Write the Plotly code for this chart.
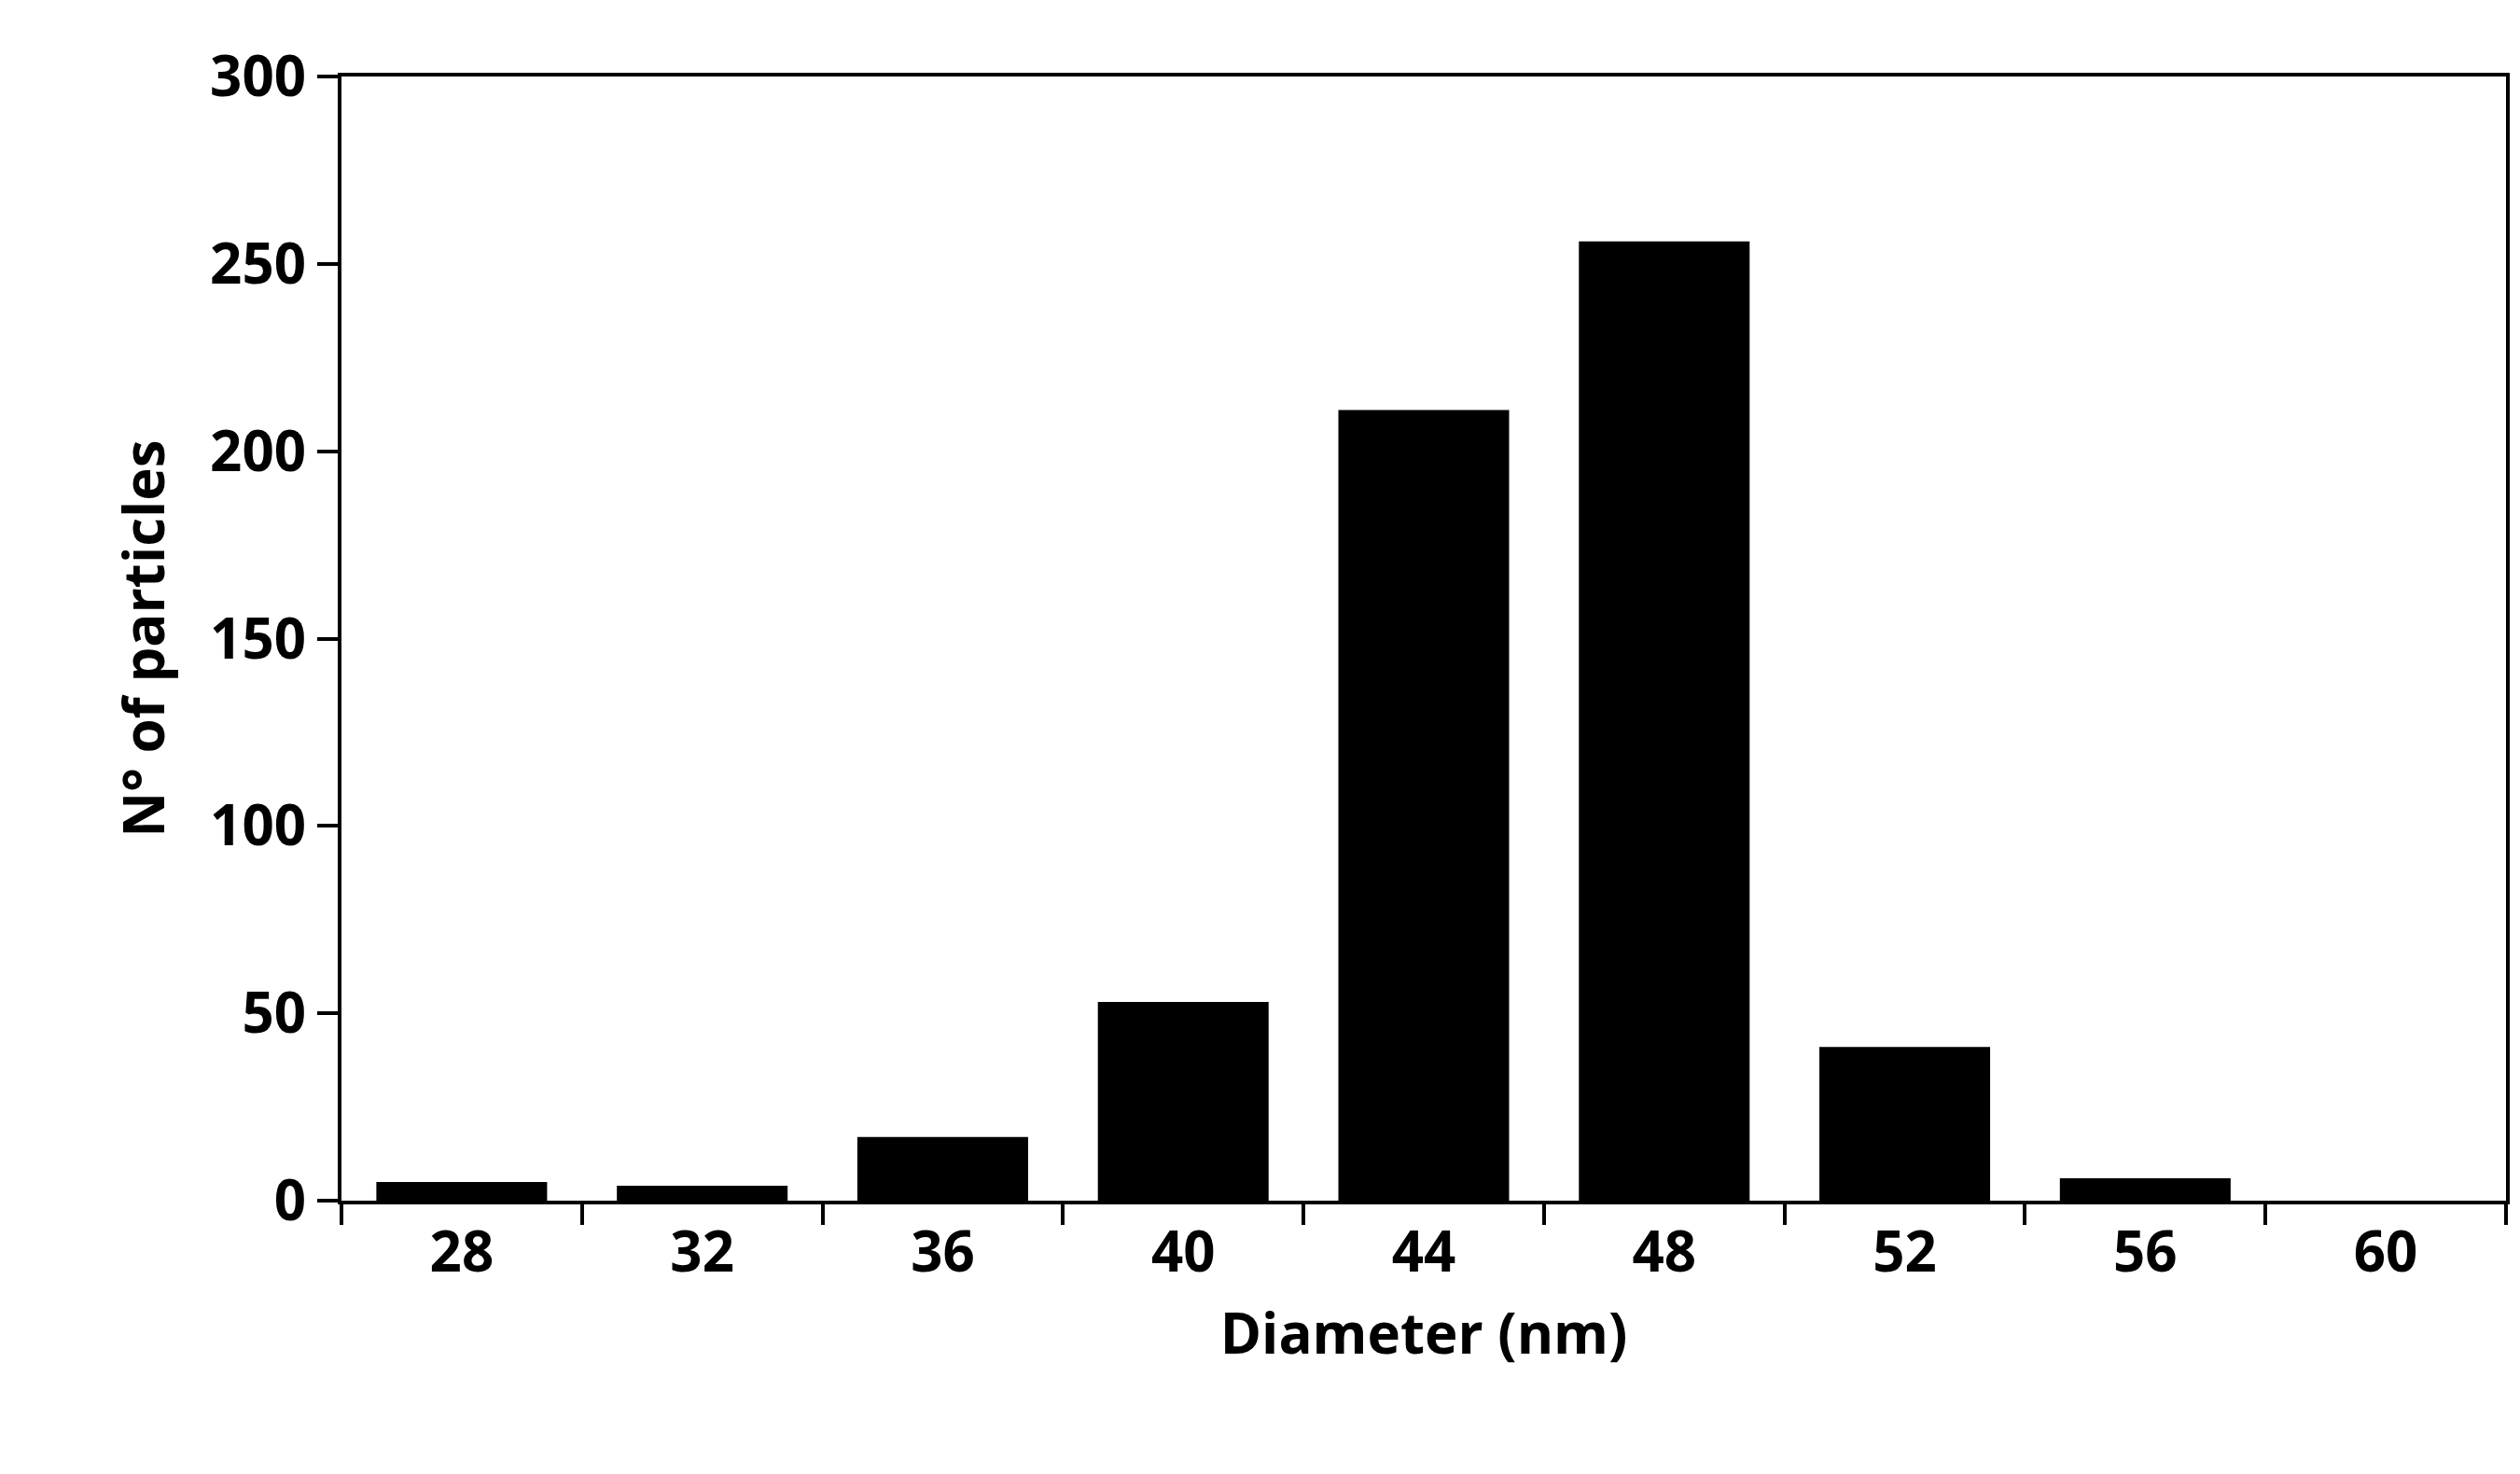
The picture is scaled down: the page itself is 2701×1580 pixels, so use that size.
import plotly.graph_objects as go

diameters = ["28", "32", "36", "40", "44", "48", "52", "56", "60"]
counts = [5, 4, 17, 53, 211, 256, 41, 6, 0]

fig = go.Figure(
    go.Bar(x=diameters, y=counts, marker=dict(color="black", line=dict(width=0)))
)

axis_font = dict(family="Open Sans", size=60, color="black", weight="bold")

fig.update_layout(
    width=2701,
    height=1580,
    margin=dict(l=358, r=23, t=74, b=301),
    plot_bgcolor="white",
    paper_bgcolor="white",
    bargap=0.29,
    showlegend=False,
    font=dict(family="Open Sans", color="black"),
)
fig.update_xaxes(
    type="category",
    tickson="boundaries",
    ticks="outside",
    ticklen=22,
    tickwidth=4,
    tickcolor="black",
    showline=True,
    linewidth=4,
    linecolor="black",
    mirror=True,
    tickfont=axis_font,
    title=dict(text="Diameter (nm)", font=axis_font, standoff=30),
)
fig.update_yaxes(
    range=[0, 300],
    dtick=50,
    ticks="outside",
    ticklen=22,
    tickwidth=4,
    tickcolor="black",
    showline=True,
    linewidth=4,
    linecolor="black",
    mirror=True,
    showgrid=False,
    zeroline=False,
    tickfont=axis_font,
    title=dict(text="N° of particles", font=axis_font, standoff=30),
)

fig.write_html("out.html")
